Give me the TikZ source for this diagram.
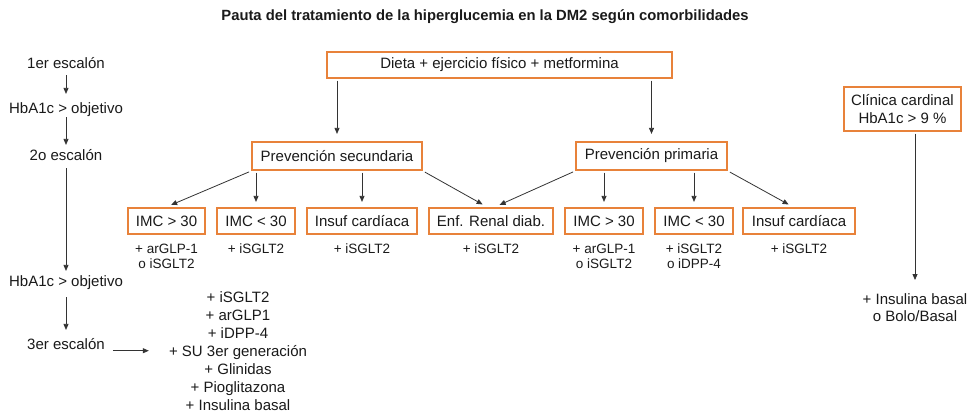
\documentclass[tikz,border=0pt]{standalone}
\usepackage{fontspec}
\setmainfont{Liberation Sans}
\usetikzlibrary{arrows.meta}
\definecolor{boxor}{HTML}{E8823A}
\definecolor{txt}{HTML}{1A1A1A}
\definecolor{arrc}{HTML}{333333}
\begin{document}
\begin{tikzpicture}[x=1pt,y=-1pt,
  lbl/.style={inner sep=0pt, text=txt, font=\fontsize{15}{17}\selectfont, text height=10.8pt, text depth=3pt},
  small/.style={inner sep=0pt, text=txt, font=\fontsize{13.5}{14.5}\selectfont, align=center, anchor=north},
  biglist/.style={inner sep=0pt, text=txt, align=center, anchor=north},
  obox/.style={draw=boxor, line width=2.2pt, fill=white, inner sep=0pt, text=txt, font=\fontsize{15}{18}\selectfont, minimum height=26pt, align=center},
  arr/.style={draw=arrc, line width=0.8pt, -{Triangle[width=5pt,length=6pt]}},
]
\useasboundingbox[fill=white] (0,0) rectangle (968,412);

% title
\node[inner sep=0pt, text=txt, font=\bfseries\fontsize{14.8}{16}\selectfont] (title) at (485,17) {Pauta del tratamiento de la hiperglucemia en la DM2 según comorbilidades};

% left column
\node[lbl] (e1) at (66,65) {1er escalón};
\node[lbl] (h1) at (66,110) {HbA1c > objetivo};
\node[lbl] (e2) at (66,157) {2o escalón};
\node[lbl] (h2) at (66,283) {HbA1c > objetivo};
\node[lbl] (e3) at (66,346) {3er escalón};
\node[biglist, font=\fontsize{15}{18}\selectfont] (list) at (238,291) {+ iSGLT2\\+ arGLP1\\+ iDPP-4\\+ SU 3er generación\\+ Glinidas\\+ Pioglitazona\\+ Insulina basal};

% boxes
\node[obox, minimum width=345pt] (dieta) at (499.5,65) {Dieta + ejercicio físico + metformina};
\node[obox, minimum width=170pt, minimum height=28pt] (psec) at (337,156) {Prevención secundaria};
\node[obox, minimum width=151pt, minimum height=28pt] (pprim) at (651.5,156) {Prevención primaria};
\node[obox, minimum width=117pt, minimum height=44pt] (clin) at (902.5,109) {Clínica cardinal\\HbA1c > 9 \%};

\node[obox, minimum width=77pt] (b1) at (166.5,221) {IMC > 30};
\node[obox, minimum width=78pt] (b2) at (256,221) {IMC < 30};
\node[obox, minimum width=110pt] (b3) at (362,221) {Insuf cardíaca};
\node[obox, minimum width=124pt] (b4) at (491,221) {Enf. Renal diab.};
\node[obox, minimum width=78pt] (b5) at (604,221) {IMC > 30};
\node[obox, minimum width=78pt] (b6) at (694,221) {IMC < 30};
\node[obox, minimum width=112pt] (b7) at (799,221) {Insuf cardíaca};

% labels under boxes
\node[small] (l1) at (166.5,244) {+ arGLP-1\\o iSGLT2};
\node[small] (l2) at (256,244) {+ iSGLT2};
\node[small] (l3) at (362,244) {+ iSGLT2};
\node[small] (l4) at (491,244) {+ iSGLT2};
\node[small] (l5) at (604,244) {+ arGLP-1\\o iSGLT2};
\node[small] (l6) at (694,244) {+ iSGLT2\\o iDPP-4};
\node[small] (l7) at (799,244) {+ iSGLT2};

\node[biglist, font=\fontsize{15}{17}\selectfont] (ins) at (915,293) {+ Insulina basal\\o Bolo/Basal};

% left column arrows
\draw[arr, shorten <=3pt, shorten >=9pt] (e1) -- (h1);
\draw[arr, shorten <=0pt, shorten >=5pt] (h1) -- (e2);
\draw[arr, shorten <=4pt, shorten >=5pt] (e2) -- (h2);
\draw[arr, shorten <=7pt, shorten >=9pt] (h2) -- (e3);
\draw[arr, shorten <=8pt, shorten >=20pt] (e3.east |- list.west) -- (list.west);

% tree arrows
\draw[arr, shorten <=1.5pt, shorten >=7pt] (psec.north |- dieta.south) -- (psec.north);
\draw[arr, shorten <=1.5pt, shorten >=7pt] (pprim.north |- dieta.south) -- (pprim.north);

\draw[arr, shorten <=2pt, shorten >=5pt] (psec.south west) -- (b1.north);
\draw[arr, shorten <=1.5pt, shorten >=5pt] (b2.north |- psec.south) -- (b2.north);
\draw[arr, shorten <=1.5pt, shorten >=5pt] (b3.north |- psec.south) -- (b3.north);
\draw[arr, shorten <=2pt, shorten >=5pt] (psec.south east) -- ([xshift=-4pt]b4.north);
\draw[arr, shorten <=2pt, shorten >=5pt] (pprim.south west) -- ([xshift=4pt]b4.north);
\draw[arr, shorten <=1.5pt, shorten >=5pt] (b5.north |- pprim.south) -- (b5.north);
\draw[arr, shorten <=1.5pt, shorten >=5pt] (b6.north |- pprim.south) -- (b6.north);
\draw[arr, shorten <=2pt, shorten >=5pt] (pprim.south east) -- ([xshift=-6pt]b7.north);

\draw[arr, shorten <=1.5pt, shorten >=13pt] (ins.north |- clin.south) -- (ins.north);
\end{tikzpicture}
\end{document}
